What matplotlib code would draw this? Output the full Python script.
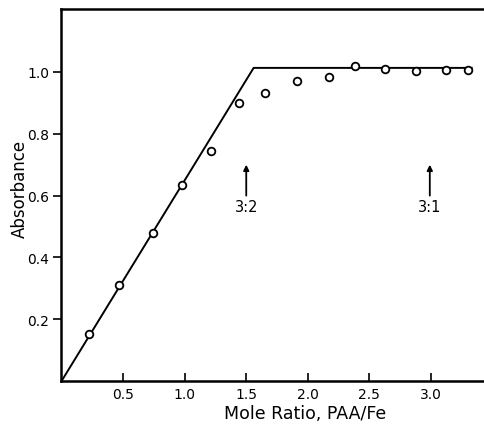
import numpy as np
import matplotlib.pyplot as plt

# measured points (mole ratio vs absorbance)
ratio = [0.22, 0.47, 0.74, 0.98, 1.21, 1.44, 1.65, 1.91, 2.17, 2.38, 2.63, 2.88, 3.12, 3.30]
absorbance = [0.152, 0.311, 0.479, 0.634, 0.744, 0.900, 0.932, 0.971, 0.984, 1.020, 1.010, 1.003, 1.006, 1.006]

# fitted lines: rising part and plateau
fit_x = [0.0, 1.56, 3.33]
fit_y = [0.0, 1.013, 1.013]

# stoichiometry markers
arrow_x = [1.50, 2.99]
arrow_labels = ["3:2", "3:1"]

xticks = [0.5, 1.0, 1.5, 2.0, 2.5, 3.0]
yticks = [0.2, 0.4, 0.6, 0.8, 1.0]

plt.rcParams['font.family'] = ['DejaVu Sans']

fig = plt.figure(figsize=(4.84, 4.27), dpi=100)
ax = fig.add_axes([0.127, 0.105, 0.873, 0.872])

ax.plot(fit_x, fit_y, color='black', lw=1.4)
ax.plot(ratio, absorbance, 'o', mfc='white', mec='black', ms=5.5, mew=1.3)

for xa, lab in zip(arrow_x, arrow_labels):
    ax.annotate('', xy=(xa, 0.70), xytext=(xa, 0.60),
                arrowprops=dict(arrowstyle='-|>', color='black', lw=1.3,
                                mutation_scale=8, shrinkA=0, shrinkB=0))
    ax.text(xa, 0.565, lab, ha='center', va='center', fontsize=10.5)

ax.set_xlim(0, 3.43)
ax.set_ylim(0, 1.204)
ax.set_xticks(xticks)
ax.set_xticklabels([f"{v:.1f}" for v in xticks])
ax.set_yticks(yticks)
ax.set_yticklabels([f"{v:.1f}" for v in yticks])
ax.tick_params(axis='x', direction='in', length=6, width=1.2, labelsize=10, pad=4)
ax.tick_params(axis='y', direction='out', length=6, width=1.2, labelsize=10, pad=3)

for side in ['left', 'bottom', 'top']:
    ax.spines[side].set_linewidth(1.8)
ax.spines['right'].set_visible(False)

ax.set_ylabel("Absorbance", fontsize=12)
ax.yaxis.set_label_coords(-0.078, 0.52)
ax.set_xlabel("Mole Ratio, PAA/Fe", fontsize=12.5)
ax.xaxis.set_label_coords(0.576, -0.062)

fig.savefig("out.png", dpi=100)
